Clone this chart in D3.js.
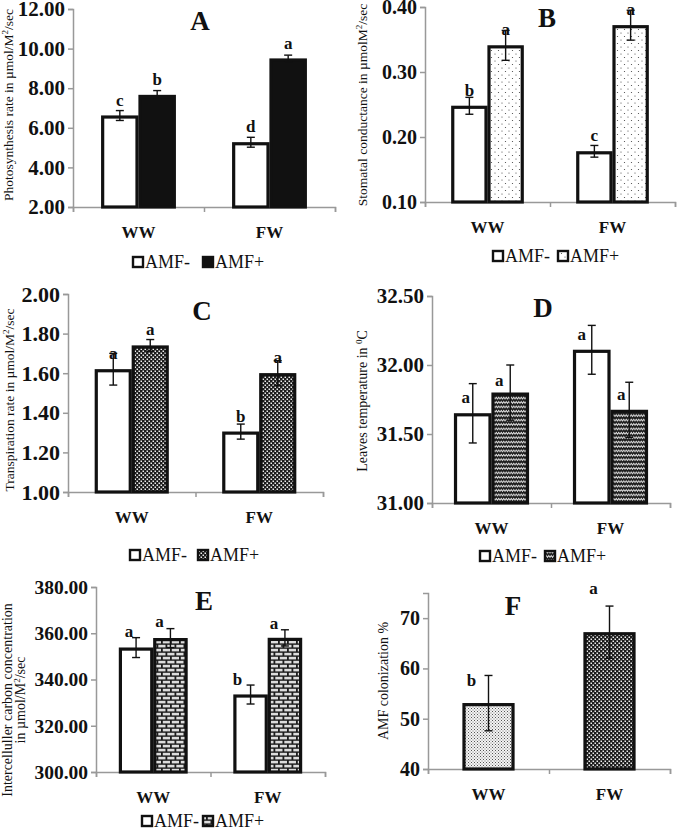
<!DOCTYPE html>
<html>
<head>
<meta charset="utf-8">
<script src="https://cdn.jsdelivr.net/npm/d3@7"></script>
<style>
  body { margin: 0; background: #fff; }
  svg text { font-family: "Liberation Serif", "DejaVu Serif", serif; fill: #111; }
</style>
</head>
<body>
<svg id="chart" width="685" height="830"></svg>
<script>
// categories and series
var groups = ["WW", "FW"];
var seriesNames = ["AMF-", "AMF+"];

// A - photosynthesis
var photoMinus = [6.62, 5.27];
var photoPlus = [7.66, 9.50];
var photoMinusErr = [0.25, 0.25];
var photoPlusErr = [0.22, 0.17];
var photoLettersMinus = ["c", "d"];
var photoLettersPlus = ["b", "a"];
var photoTicks = [2, 4, 6, 8, 10, 12];

// B - stomatal conductance
var stomMinus = [0.248, 0.178];
var stomPlus = [0.341, 0.372];
var stomMinusErr = [0.013, 0.009];
var stomPlusErr = [0.023, 0.023];
var stomLettersMinus = ["b", "c"];
var stomLettersPlus = ["a", "a"];
var stomTicks = [0.10, 0.20, 0.30, 0.40];

// C - transpiration
var transMinus = [1.62, 1.305];
var transPlus = [1.74, 1.60];
var transMinusErr = [0.08, 0.038];
var transPlusErr = [0.03, 0.063];
var transLettersMinus = ["a", "b"];
var transLettersPlus = ["a", "a"];
var transTicks = [1.00, 1.20, 1.40, 1.60, 1.80, 2.00];

// D - leaf temperature
var tempMinus = [31.65, 32.11];
var tempPlus = [31.80, 31.675];
var tempMinusErr = [0.215, 0.177];
var tempPlusErr = [0.20, 0.20];
var tempLettersMinus = ["a", "a"];
var tempLettersPlus = ["a", "a"];
var tempTicks = [31.00, 31.50, 32.00, 32.50];

// E - intercellular CO2
var carbMinus = [353.8, 333.5];
var carbPlus = [357.9, 358.0];
var carbMinusErr = [4.3, 4.1];
var carbPlusErr = [4.1, 3.5];
var carbLettersMinus = ["a", "b"];
var carbLettersPlus = ["a", "a"];
var carbTicks = [300, 320, 340, 360, 380];

// F - AMF colonization
var colon = [53.1, 67.2];
var colonErr = [5.5, 5.2];
var colonLetters = ["b", "a"];
var colonTicks = [40, 50, 60, 70];

var FONT = "'Liberation Serif', 'DejaVu Serif', serif";
var svg = d3.select("#chart");
var defs = svg.append("defs");

// fill patterns
var p = defs.append("pattern").attr("id", "sparseDots").attr("patternUnits", "userSpaceOnUse")
  .attr("width", 7).attr("height", 7);
p.append("rect").attr("width", 7).attr("height", 7).attr("fill", "#fff");
p.append("circle").attr("cx", 1.5).attr("cy", 1.5).attr("r", 0.6).attr("fill", "#444");
p.append("circle").attr("cx", 5).attr("cy", 5).attr("r", 0.6).attr("fill", "#444");

p = defs.append("pattern").attr("id", "confetti").attr("patternUnits", "userSpaceOnUse")
  .attr("width", 4).attr("height", 4);
p.append("rect").attr("width", 4).attr("height", 4).attr("fill", "#1c1c1c");
p.append("rect").attr("x", 0.5).attr("y", 0.5).attr("width", 1.5).attr("height", 1.5).attr("fill", "#eee");
p.append("rect").attr("x", 2.5).attr("y", 2.5).attr("width", 1.5).attr("height", 1.5).attr("fill", "#eee");

p = defs.append("pattern").attr("id", "waves").attr("patternUnits", "userSpaceOnUse")
  .attr("width", 5).attr("height", 4.4);
p.append("rect").attr("width", 5).attr("height", 4.4).attr("fill", "#1c1c1c");
p.append("path").attr("d", "M0,3 L1.25,1.3 L2.5,3 L3.75,1.3 L5,3")
  .attr("fill", "none").attr("stroke", "#eee").attr("stroke-width", 0.9);

p = defs.append("pattern").attr("id", "bricks").attr("patternUnits", "userSpaceOnUse")
  .attr("width", 9).attr("height", 8);
p.append("rect").attr("width", 9).attr("height", 8).attr("fill", "#1c1c1c");
p.append("rect").attr("x", 0.8).attr("y", 0.8).attr("width", 7.2).attr("height", 2.6).attr("fill", "#ddd");
p.append("rect").attr("x", 5.3).attr("y", 4.8).attr("width", 7.2).attr("height", 2.6).attr("fill", "#ddd");
p.append("rect").attr("x", -3.7).attr("y", 4.8).attr("width", 7.2).attr("height", 2.6).attr("fill", "#ddd");

p = defs.append("pattern").attr("id", "fineDots").attr("patternUnits", "userSpaceOnUse")
  .attr("width", 3).attr("height", 3);
p.append("rect").attr("width", 3).attr("height", 3).attr("fill", "#f4f4f4");
p.append("rect").attr("x", 0).attr("y", 0).attr("width", 1).attr("height", 1).attr("fill", "#555");
p.append("rect").attr("x", 1.5).attr("y", 1.5).attr("width", 1).attr("height", 1).attr("fill", "#777");

function drawPanel(c) {
  var g = svg.append("g");
  var y = d3.scaleLinear().domain(c.domain).range([c.yBot, c.yTop]);
  var xb = d3.scaleBand().domain(groups).range([c.x0, c.x1])
    .paddingInner(c.pad).paddingOuter(c.pad / 2);
  var xs = d3.scaleBand().domain(c.series.map(function(s, i) { return i; }))
    .range([0, xb.bandwidth()]);

  // y axis
  var ya = g.append("g").attr("transform", "translate(" + c.x0 + ",0)")
    .call(d3.axisLeft(y).tickValues(c.ticks).tickFormat(c.fmt).tickSize(5).tickPadding(3));
  ya.select(".domain").attr("stroke", "#999").attr("stroke-width", 1.5);
  ya.selectAll(".tick line").attr("stroke", "#999").attr("stroke-width", 1.5);
  ya.selectAll("text").style("font-family", FONT).style("font-size", c.tickSize + "px")
    .style("font-weight", "bold").attr("fill", "#111");

  // x axis
  var xl = d3.scaleLinear().domain([0, groups.length]).range([c.x0, c.x1]);
  var xa = g.append("g").attr("transform", "translate(0," + c.yBot + ")")
    .call(d3.axisBottom(xl).tickValues(d3.range(groups.length + 1)).tickFormat("").tickSize(5).tickSizeOuter(5));
  xa.select(".domain").attr("stroke", "#999").attr("stroke-width", 1.5);
  xa.selectAll(".tick line").attr("stroke", "#999").attr("stroke-width", 1.5);

  g.selectAll(".cat").data(groups).enter().append("text")
    .attr("x", function(d) { return xb(d) + xb.bandwidth() / 2; })
    .attr("y", c.yBot + 31)
    .attr("text-anchor", "middle").attr("font-size", 17).attr("font-weight", "bold")
    .text(function(d) { return d; });

  // bars, error bars and letters
  c.series.forEach(function(s, si) {
    var sg = g.append("g");
    var bx = function(d, i) { return xb(groups[i]) + xs(si); };
    sg.selectAll("rect").data(s.values).enter().append("rect")
      .attr("x", function(d, i) { return bx(d, i) + 1.5; })
      .attr("y", function(d) { return y(d) + 1.5; })
      .attr("width", xs.bandwidth() - 3)
      .attr("height", function(d) { return c.yBot - y(d) - 1.5; })
      .attr("fill", function(d, i) { return typeof s.fill === "function" ? s.fill(i) : s.fill; })
      .attr("stroke", "#111").attr("stroke-width", 3.2);
    var cx = function(i) { return bx(0, i) + xs.bandwidth() / 2; };
    s.values.forEach(function(v, i) {
      var e = s.errs[i];
      var eg = sg.append("g").attr("stroke", "#111").attr("stroke-width", 1.4);
      eg.append("line").attr("x1", cx(i)).attr("x2", cx(i)).attr("y1", y(v - e)).attr("y2", y(v + e));
      eg.append("line").attr("x1", cx(i) - 4).attr("x2", cx(i) + 4).attr("y1", y(v - e)).attr("y2", y(v - e));
      eg.append("line").attr("x1", cx(i) - 4).attr("x2", cx(i) + 4).attr("y1", y(v + e)).attr("y2", y(v + e));
      var off = c.letterOff ? c.letterOff[si][i] : [0, -10];
      sg.append("text").attr("x", cx(i) + off[0]).attr("y", y(v) + off[1])
        .attr("text-anchor", "middle").attr("font-size", 17).attr("font-weight", "bold")
        .text(s.letters[i]);
    });
  });

  // panel letter
  g.append("text").attr("x", c.title[1]).attr("y", c.title[2])
    .attr("text-anchor", "middle").attr("font-size", 27).attr("font-weight", "bold")
    .text(c.title[0]);

  // y label, one text per line (parts that are objects carry a superscript)
  c.ylab.lines.forEach(function(line, li) {
    var t = g.append("text")
      .attr("transform", "translate(" + (c.ylab.x + li * 12.5) + "," + c.ylab.y + ") rotate(-90)")
      .attr("text-anchor", "middle").attr("font-size", c.ylab.size || 13.5);
    var shift = 0;
    line.forEach(function(part) {
      if (typeof part === "string") {
        var ts = t.append("tspan").text(part);
        if (shift) ts.attr("dy", shift);
        shift = 0;
      } else {
        t.append("tspan").attr("dy", -5).attr("font-size", 9).text(part.sup);
        shift = 5;
      }
    });
  });

  // legend
  if (c.legend) {
    c.series.forEach(function(s, si) {
      var lx = c.legend.x + si * c.legend.dx;
      g.append("rect").attr("x", lx).attr("y", c.legend.y - 5).attr("width", 10).attr("height", 10)
        .attr("fill", s.fill).attr("stroke", "#111").attr("stroke-width", 2.4);
      g.append("text").attr("x", lx + 12).attr("y", c.legend.y + 6).attr("font-size", 18)
        .text(seriesNames[si]);
    });
  }
}

var f2 = d3.format(".2f");
var unit = function(pre, mid) {
  return [[pre + " in \u00b5mol" + mid + "M", { sup: "2" }, "/sec"]];
};

drawPanel({
  x0: 73, x1: 335, yTop: 9, yBot: 207, domain: [2, 12], ticks: photoTicks, fmt: f2, pad: 0.43, tickSize: 21,
  series: [
    { values: photoMinus, errs: photoMinusErr, letters: photoLettersMinus, fill: "#fff" },
    { values: photoPlus, errs: photoPlusErr, letters: photoLettersPlus, fill: "#111" }
  ],
  title: ["A", 200, 30],
  ylab: { x: 13, y: 105, lines: [["Photosynthesis rate  in \u00b5mol/M", { sup: "2" }, "/sec"]] },
  legend: { x: 133, y: 262, dx: 70 }
});

drawPanel({
  x0: 425, x1: 675, yTop: 7, yBot: 202, domain: [0.1, 0.4], ticks: stomTicks, fmt: f2, pad: 0.42, tickSize: 20,
  series: [
    { values: stomMinus, errs: stomMinusErr, letters: stomLettersMinus, fill: "#fff" },
    { values: stomPlus, errs: stomPlusErr, letters: stomLettersPlus, fill: "url(#sparseDots)" }
  ],
  title: ["B", 547, 27],
  ylab: { x: 367, y: 105, lines: unit("Stomatal conductance", "") },
  legend: { x: 493, y: 256, dx: 65 }
});

drawPanel({
  x0: 68, x1: 323, yTop: 294, yBot: 492, domain: [1, 2], ticks: transTicks, fmt: f2, pad: 0.42, tickSize: 22,
  series: [
    { values: transMinus, errs: transMinusErr, letters: transLettersMinus, fill: "#fff" },
    { values: transPlus, errs: transPlusErr, letters: transLettersPlus, fill: "url(#confetti)" }
  ],
  title: ["C", 202, 320],
  ylab: { x: 14, y: 400, lines: unit("Transpiration rate", "/") },
  legend: { x: 130, y: 555, dx: 68 }
});

drawPanel({
  x0: 432, x1: 670, yTop: 296, yBot: 503, domain: [31, 32.5], ticks: tempTicks, fmt: f2, pad: 0.37, tickSize: 21,
  series: [
    { values: tempMinus, errs: tempMinusErr, letters: tempLettersMinus, fill: "#fff" },
    { values: tempPlus, errs: tempPlusErr, letters: tempLettersPlus, fill: "url(#waves)" }
  ],
  title: ["D", 543, 317],
  ylab: { x: 367, y: 401, lines: [["Leaves temperature in ", { sup: "0" }, "C"]], size: 14 },
  letterOff: [[[-7, -10], [-10, -10]], [[-11, -7], [-8, -10]]],
  legend: { x: 480, y: 556, dx: 65 }
});

drawPanel({
  x0: 96, x1: 325, yTop: 587, yBot: 772, domain: [300, 380], ticks: carbTicks, fmt: f2, pad: 0.40, tickSize: 19.5,
  series: [
    { values: carbMinus, errs: carbMinusErr, letters: carbLettersMinus, fill: "#fff" },
    { values: carbPlus, errs: carbPlusErr, letters: carbLettersPlus, fill: "url(#bricks)" }
  ],
  title: ["E", 204, 610],
  ylab: { x: 12, y: 700, lines: [["Intercelluller carbon concentration"], ["in \u00b5mol/M", { sup: "2" }, "/sec"]], size: 14 },
  letterOff: [[[-7, -11], [-13, -10]], [[-11, -11], [-11, -9]]],
  legend: { x: 142, y: 821, dx: 61 }
});

drawPanel({
  x0: 428, x1: 670, yTop: 593, yBot: 769, domain: [40, 75], ticks: colonTicks, fmt: d3.format("d"), pad: 0.57, tickSize: 20,
  series: [
    { values: colon, errs: colonErr, letters: colonLetters,
      fill: function(i) { return i === 0 ? "url(#fineDots)" : "url(#confetti)"; } }
  ],
  title: ["F", 513, 615],
  ylab: { x: 388, y: 681, lines: [["AMF colonization %"]], size: 14 },
  letterOff: [[[-17, -17], [-16, -38]]]
});
</script>
</body>
</html>
